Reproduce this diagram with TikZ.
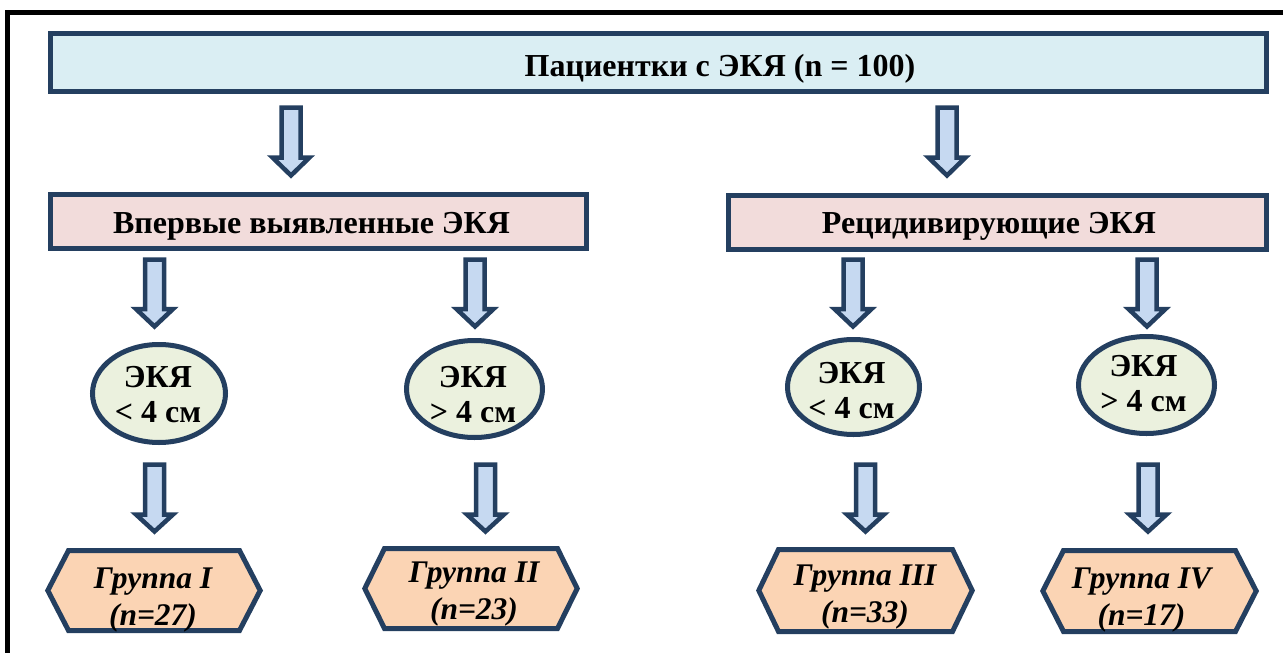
\documentclass[tikz,border=0pt]{standalone}
\usepackage{fontspec}
\setmainfont{Liberation Serif}
\usetikzlibrary{shapes.geometric}
\definecolor{navy}{HTML}{243F60}
\definecolor{titlefill}{HTML}{DAEEF3}
\definecolor{pinkfill}{HTML}{F2DCDB}
\definecolor{arrowfill}{HTML}{C6D9F1}
\definecolor{ellfill}{HTML}{EBF1DE}
\definecolor{hexfill}{HTML}{FBD4B4}
\tikzset{
  shapeline/.style={draw=navy, line width=5pt, line join=miter},
  boxshape/.style={shapeline, rectangle, inner sep=0pt},
  ellshape/.style={shapeline, ellipse, inner sep=0pt, fill=ellfill},
  barrow/.style={shapeline, line width=4.5pt, fill=arrowfill},
  hexpath/.style={shapeline, fill=hexfill},
  bigtext/.style={font=\fontsize{32}{36}\selectfont\bfseries, inner sep=0pt},
  ellText/.style={font=\fontsize{32}{35}\selectfont\bfseries, align=center, inner sep=0pt},
  hexText/.style={font=\fontsize{31.5}{37}\selectfont\bfseries\itshape, align=center, inner sep=0pt},
}
% block arrow: centre x, outer top, outer head top, outer tip
\newcommand\blockarrow[4]{%
  \draw[barrow] ({#1-9.5},{#2+2.5}) -- ({#1+9.5},{#2+2.5}) -- ({#1+9.5},{#3+2.5})
    -- ({#1+18.5},{#3+2.5}) -- (#1,{#4-3.5}) -- ({#1-18.5},{#3+2.5})
    -- ({#1-9.5},{#3+2.5}) -- cycle;}
% hexagon: outer left, outer right, outer top, outer bottom, corner inset
\newcommand\hexagonshape[5]{%
  \draw[hexpath] ({#1+2.8},{(#3+#4)/2}) -- ({#1+#5+1.5},{#3+2.5}) -- ({#2-#5-1.5},{#3+2.5})
    -- ({#2-2.8},{(#3+#4)/2}) -- ({#2-#5-1.5},{#4-2.5}) -- ({#1+#5+1.5},{#4-2.5}) -- cycle;}
\begin{document}
\begin{tikzpicture}[x=1pt, y=-1pt]
\useasboundingbox (0,0) rectangle (1283,653);
% frame
\draw[line width=4.5pt, black] (7.5,660) -- (7.5,12.5) -- (1290,12.5);
% level 0
\node[boxshape, fill=titlefill, minimum width=1216pt, minimum height=58pt] (top) at (658.5,62.5) {};
\node[bigtext, anchor=base] (toptext) at (720,76) {Пациентки с ЭКЯ (n = 100)};
\blockarrow{291}{105}{155}{179}
\blockarrow{947}{105}{155}{179}
% level 1
\node[boxshape, fill=pinkfill, minimum width=536pt, minimum height=54pt] (left) at (318.5,221.5) {};
\node[bigtext, anchor=base] (lefttext) at (311.5,233) {Впервые выявленные ЭКЯ};
\node[boxshape, fill=pinkfill, minimum width=538pt, minimum height=54pt] (right) at (997.5,222.5) {};
\node[bigtext, anchor=base] (righttext) at (989,233) {Рецидивирующие ЭКЯ};
\blockarrow{154.5}{257}{306.5}{330}
\blockarrow{475}{257}{306.5}{330}
\blockarrow{853}{257}{306.5}{330}
\blockarrow{1147}{257}{306.5}{330}
% level 2
\node[ellshape, minimum width=133pt, minimum height=98pt] (e1) at (159,393.5) {};
\node[ellshape, minimum width=136pt, minimum height=97pt] (e2) at (474.5,389) {};
\node[ellshape, minimum width=132pt, minimum height=95pt] (e3) at (853.5,387) {};
\node[ellshape, minimum width=136pt, minimum height=97pt] (e4) at (1146.5,385) {};
\node[ellText] (e1text) at (158,394.9) {ЭКЯ\\< 4 см};
\node[ellText] (e2text) at (473,394.9) {ЭКЯ\\> 4 см};
\node[ellText] (e3text) at (851.5,390.9) {ЭКЯ\\< 4 см};
\node[ellText] (e4text) at (1143.5,383.9) {ЭКЯ\\> 4 см};
\blockarrow{154.5}{462}{512}{535}
\blockarrow{485.5}{462}{512}{535}
\blockarrow{865.5}{462}{512}{535}
\blockarrow{1148}{462}{512}{535}
% level 3
\hexagonshape{45}{263}{548}{633}{22}
\hexagonshape{362}{580}{546}{631}{21}
\hexagonshape{756}{975}{547}{634}{21}
\hexagonshape{1040}{1259}{548}{634}{22}
\node[hexText] (g1) at (153,600.4) {Группа I\\(n=27)};
\node[hexText] (g2) at (474,594.4) {Группа II\\(n=23)};
\node[hexText] (g3) at (865,597.4) {Группа III\\(n=33)};
\node[hexText] (g4) at (1141.5,600.4) {Группа IV\\(n=17)};
\end{tikzpicture}
\end{document}
